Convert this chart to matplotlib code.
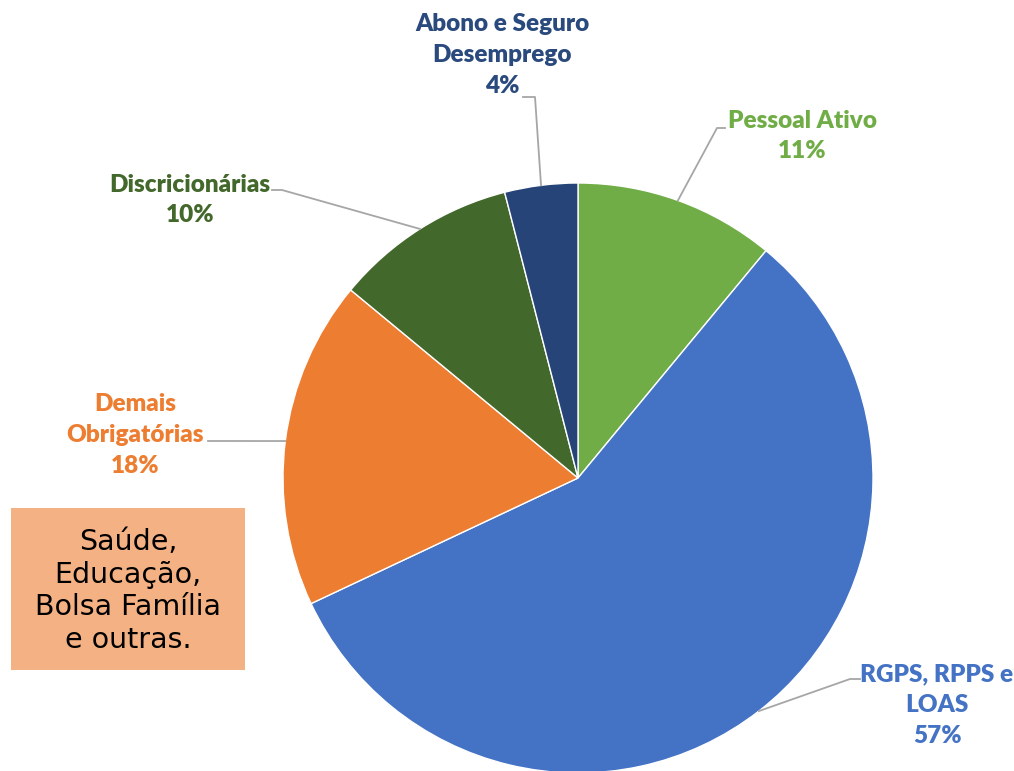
import numpy as np
import matplotlib.pyplot as plt
from matplotlib.patches import Rectangle

# shares of spending, clockwise from the top
categorias = ['Pessoal Ativo', 'RGPS, RPPS e\nLOAS', 'Demais\nObrigatórias',
              'Discricionárias', 'Abono e Seguro\nDesemprego']
valores = [11, 57, 18, 10, 4]
cores = ['#70AD47', '#4472C4', '#ED7D31', '#43682B', '#264478']
cores_texto = ['#70AD47', '#4472C4', '#ED7D31', '#43682B', '#2A4A7E']
nota = 'Saúde,\nEducação,\nBolsa Família\ne outras.'

W, H = 1014, 771
fig = plt.figure(figsize=(W / 100, H / 100), dpi=100)
ax = fig.add_axes([0, 0, 1, 1])

cx, cy, r = 578, H - 478, 295
wedges, _ = ax.pie(valores, colors=cores, startangle=90, counterclock=False,
                   radius=r, center=(cx, cy), frame=True,
                   wedgeprops=dict(edgecolor='white', linewidth=1))
ax.set_xlim(0, W)
ax.set_ylim(0, H)
ax.set_aspect('equal')
ax.axis('off')

# label centre (px from top-left) and leader elbow points
label_pos = [(802, 136), (937, 705), (135, 435), (190, 200), (502, 55)]
elbows = [[(725, 128), (717, 128)],
          [(860, 679), (850, 679)],
          [(208, 441), (208, 441)],
          [(272, 190), (282, 190)],
          [(523, 97), (535, 97)]]

for w, cat, v, ct, (lx, ly), elb in zip(wedges, categorias, valores, cores_texto,
                                          label_pos, elbows):
    ang = np.deg2rad((w.theta1 + w.theta2) / 2)
    px, py = cx + r * np.cos(ang), cy + r * np.sin(ang)
    xs = [e[0] for e in elb] + [px]
    ys = [H - e[1] for e in elb] + [py]
    ax.plot(xs, ys, color='#A6A6A6', lw=1.3, zorder=1)
    ax.text(lx, H - ly, f'{cat}\n{v}%', ha='center', va='center',
            color=ct, fontsize=17.5, fontweight='heavy', family='Lato',
            linespacing=1.5)

ax.add_patch(Rectangle((11, H - 670), 234, 162, facecolor='#F4B183',
                       edgecolor='none', zorder=3))
ax.text(128, H - 591, nota, ha='center', va='center', fontsize=20.5,
        family='DejaVu Sans', color='black', linespacing=1.22, zorder=4)

fig.savefig('out.png', dpi=100)
